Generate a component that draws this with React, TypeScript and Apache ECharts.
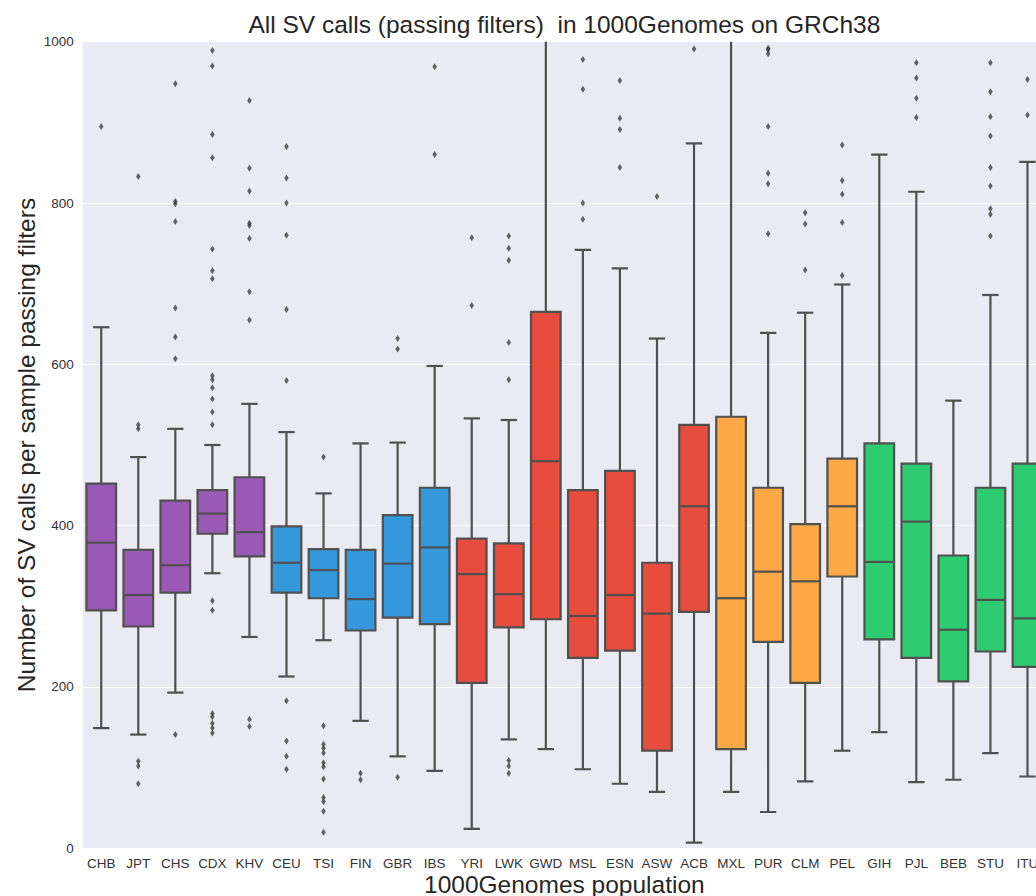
import React, { useEffect, useRef } from "react";
import * as echarts from "echarts";

const categories = [
  "CHB", "JPT", "CHS", "CDX", "KHV", "CEU", "TSI", "FIN", "GBR", "IBS",
  "YRI", "LWK", "GWD", "MSL", "ESN", "ASW", "ACB", "MXL", "PUR", "CLM",
  "PEL", "GIH", "PJL", "BEB", "STU", "ITU",
];

const superPop = [
  "EAS", "EAS", "EAS", "EAS", "EAS", "EUR", "EUR", "EUR", "EUR", "EUR",
  "AFR", "AFR", "AFR", "AFR", "AFR", "AFR", "AFR", "AMR", "AMR", "AMR",
  "AMR", "SAS", "SAS", "SAS", "SAS", "SAS",
];

const lowWhisker = [149, 141, 193, 341, 262, 213, 258, 158, 114, 96, 24, 135, 123, 98, 80, 70, 7, 70, 45, 83, 121, 144, 82, 85, 118, 89];
const q1Values = [295, 275, 317, 390, 362, 317, 310, 270, 286, 278, 205, 274, 284, 236, 245, 121, 293, 123, 256, 205, 337, 259, 236, 207, 244, 225];
const medianValues = [379, 314, 351, 415, 392, 354, 345, 309, 353, 373, 340, 315, 480, 288, 314, 291, 424, 310, 343, 331, 424, 355, 405, 271, 308, 285];
const q3Values = [452, 370, 431, 444, 460, 399, 371, 370, 413, 447, 384, 378, 665, 444, 468, 354, 525, 535, 447, 402, 483, 502, 477, 363, 447, 477];
const highWhisker = [646, 485, 520, 500, 551, 516, 440, 502, 503, 598, 533, 531, 1100, 742, 719, 632, 874, 1100, 639, 664, 699, 860, 814, 555, 686, 851];

const outliers: number[][] = [
  [895],
  [833, 525, 520, 108, 102, 80],
  [948, 802, 799, 777, 670, 634, 607, 141],
  [989, 970, 885, 856, 743, 716, 706, 586, 581, 571, 557, 541, 525, 307, 295, 167, 163, 155, 149, 143],
  [927, 843, 815, 775, 772, 756, 690, 655, 160, 151],
  [870, 831, 800, 760, 668, 580, 183, 133, 114, 98],
  [485, 152, 129, 124, 118, 106, 101, 86, 63, 58, 46, 20],
  [93, 85],
  [632, 619, 88],
  [969, 860],
  [757, 673],
  [759, 744, 729, 627, 581, 109, 102, 93],
  [],
  [978, 941, 800, 780],
  [952, 905, 891, 844],
  [808],
  [991],
  [],
  [992, 990, 985, 895, 837, 824, 762],
  [788, 774, 717],
  [872, 828, 811, 776, 710],
  [],
  [974, 955, 930, 906],
  [],
  [974, 938, 907, 883, 844, 821, 793, 786, 759],
  [953, 909],
];

const yTicks = [0, 200, 400, 600, 800, 1000];

const TITLE = "All SV calls (passing filters)  in 1000Genomes on GRCh38";
const X_NAME = "1000Genomes population";
const Y_NAME = "Number of SV calls per sample passing filters";

const popColors: Record<string, string> = {
  EAS: "#9b59b6",
  EUR: "#3498db",
  AFR: "#e74c3c",
  AMR: "#fea946",
  SAS: "#2ecc71",
};

const FONT = "'Liberation Sans', Arial, sans-serif";
const EDGE = "#505050";

export default function App() {
  const ref = useRef<HTMLDivElement>(null);

  useEffect(() => {
    if (!ref.current) return;
    const chart = echarts.init(ref.current, null, { renderer: "svg" });

    const boxData = categories.map((_, i) => [
      i,
      lowWhisker[i],
      q1Values[i],
      medianValues[i],
      q3Values[i],
      highWhisker[i],
    ]);
    const outlierData: number[][] = [];
    outliers.forEach((vals, i) => vals.forEach((v) => outlierData.push([i, v])));

    const gridLeft = 82.7;
    const gridRight = 14;
    const gridTop = 41.7;
    const gridBottom = 47.7;
    const W = 1060;
    const plotCenterX = gridLeft + (W - gridLeft - gridRight) / 2;
    const plotCenterY = gridTop + (896 - gridTop - gridBottom) / 2;

    chart.setOption({
      animation: false,
      grid: {
        left: gridLeft,
        right: gridRight,
        top: gridTop,
        bottom: gridBottom,
        show: true,
        backgroundColor: "#EAEAF2",
        borderWidth: 0,
      },
      xAxis: {
        type: "category",
        data: categories,
        boundaryGap: true,
        axisLine: { show: false },
        axisTick: { show: false },
        splitLine: { show: false },
        axisLabel: {
          interval: 0,
          fontFamily: FONT,
          fontSize: 13.5,
          color: "#333333",
          margin: 8,
        },
      },
      yAxis: {
        type: "value",
        min: yTicks[0],
        max: yTicks[yTicks.length - 1],
        interval: 200,
        axisLine: { show: false },
        axisTick: { show: false },
        splitLine: { show: true, lineStyle: { color: "#ffffff", width: 1 } },
        axisLabel: {
          fontFamily: FONT,
          fontSize: 13.5,
          color: "#333333",
          margin: 9,
          formatter: (v: number) => String(v),
        },
      },
      graphic: [
        {
          type: "text",
          x: plotCenterX,
          y: 24,
          style: {
            text: TITLE,
            font: `24.5px ${FONT}`,
            fill: "#262626",
            textAlign: "center",
            textVerticalAlign: "middle",
            verticalAlign: "middle",
          },
        },
        {
          type: "text",
          x: plotCenterX,
          y: 884,
          style: {
            text: X_NAME,
            font: `24.5px ${FONT}`,
            fill: "#262626",
            textAlign: "center",
            textVerticalAlign: "middle",
            verticalAlign: "middle",
          },
        },
        {
          type: "text",
          x: 26,
          y: plotCenterY,
          rotation: Math.PI / 2,
          style: {
            text: Y_NAME,
            font: `24.5px ${FONT}`,
            fill: "#262626",
            textAlign: "center",
            textVerticalAlign: "middle",
            verticalAlign: "middle",
          },
        },
      ],
      series: [
        {
          type: "custom",
          clip: true,
          data: boxData,
          encode: { x: 0, y: [1, 2, 3, 4, 5] },
          renderItem: (params: any, api: any) => {
            const idx = api.value(0);
            const lo = api.coord([idx, api.value(1)]);
            const q1 = api.coord([idx, api.value(2)]);
            const md = api.coord([idx, api.value(3)]);
            const q3 = api.coord([idx, api.value(4)]);
            const hi = api.coord([idx, api.value(5)]);
            const band = api.size([1, 0])[0];
            const bw = band * 0.8;
            const cw = band * 0.22;
            const cx = lo[0];
            const color = popColors[superPop[params.dataIndex]];
            const lineStyle = { stroke: EDGE, lineWidth: 2.2 };
            return {
              type: "group",
              children: [
                { type: "line", shape: { x1: cx, y1: lo[1], x2: cx, y2: q1[1] }, style: lineStyle },
                { type: "line", shape: { x1: cx, y1: q3[1], x2: cx, y2: hi[1] }, style: lineStyle },
                { type: "line", shape: { x1: cx - cw, y1: lo[1], x2: cx + cw, y2: lo[1] }, style: lineStyle },
                { type: "line", shape: { x1: cx - cw, y1: hi[1], x2: cx + cw, y2: hi[1] }, style: lineStyle },
                {
                  type: "rect",
                  shape: { x: cx - bw / 2, y: q3[1], width: bw, height: q1[1] - q3[1] },
                  style: { fill: color, stroke: EDGE, lineWidth: 2.2 },
                },
                { type: "line", shape: { x1: cx - bw / 2, y1: md[1], x2: cx + bw / 2, y2: md[1] }, style: lineStyle },
              ],
            };
          },
        },
        {
          type: "scatter",
          data: outlierData,
          symbol: "diamond",
          symbolSize: [4.5, 7],
          itemStyle: { color: "#3d3d3d" },
          z: 5,
        },
      ],
    });

    return () => chart.dispose();
  }, []);

  return (
    <div
      style={{
        position: "fixed",
        left: 0,
        top: 0,
        width: 1036,
        height: 896,
        overflow: "hidden",
        background: "#ffffff",
      }}
    >
      <div ref={ref} style={{ width: 1060, height: 896 }} />
    </div>
  );
}
